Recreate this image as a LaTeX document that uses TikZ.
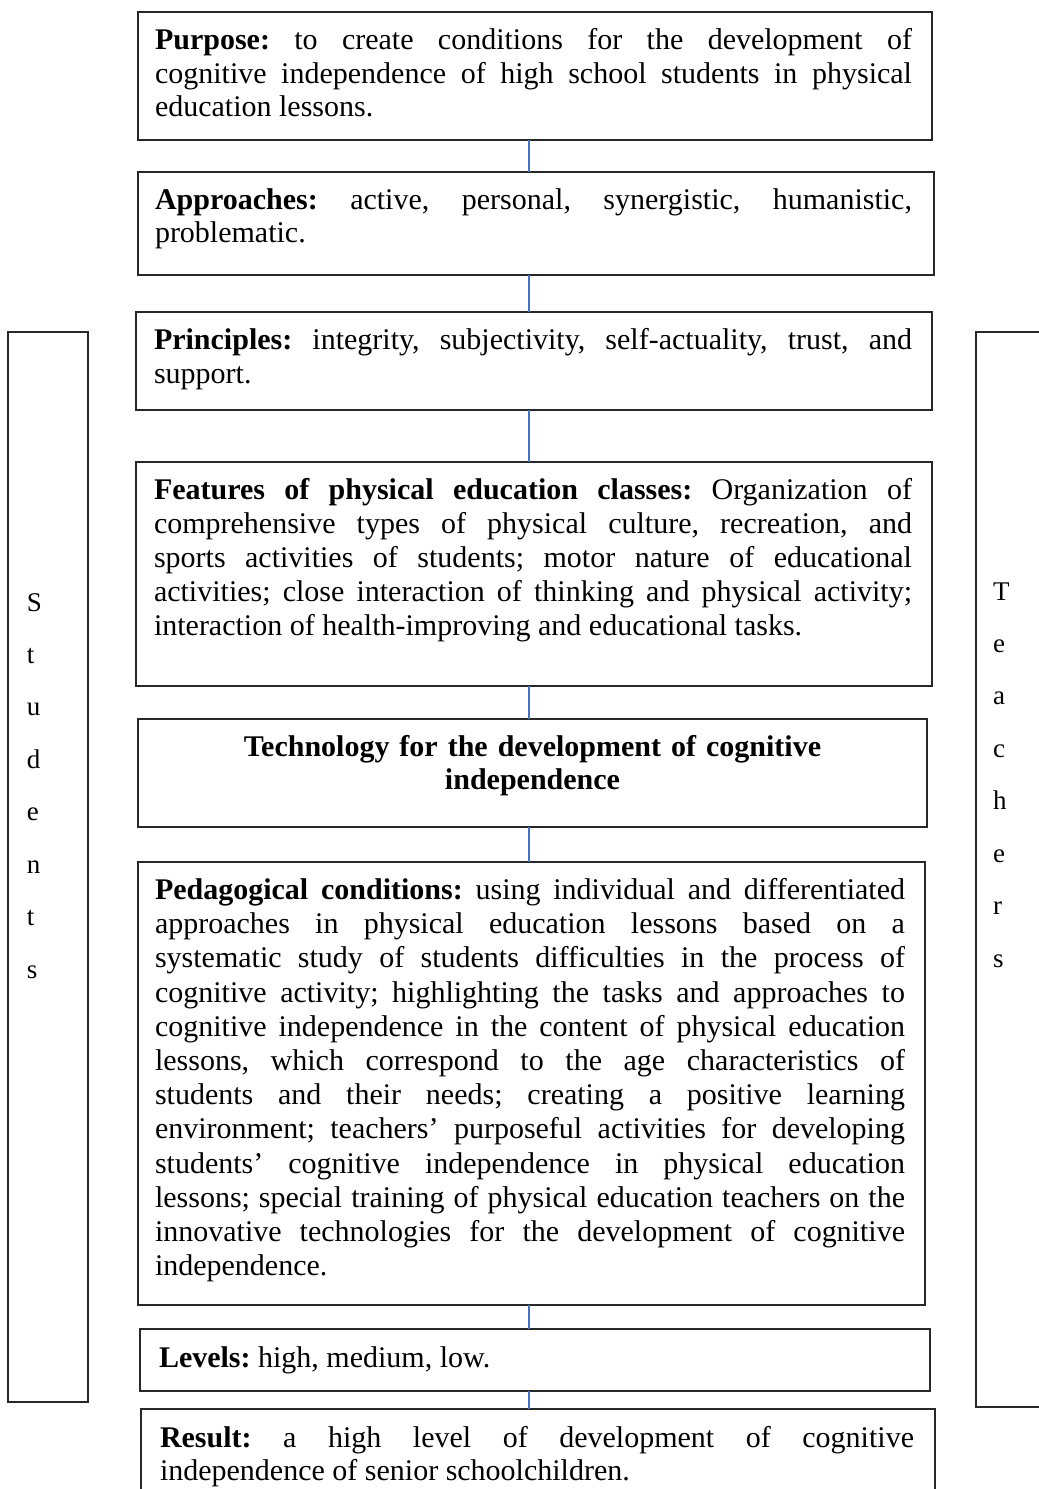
\documentclass[tikz,border=0pt]{standalone}
\usepackage{fontspec}
\setmainfont{Liberation Serif}
\definecolor{linkblue}{RGB}{68,114,196}
\definecolor{framegray}{RGB}{40,40,40}
\tikzset{
  frame/.style={draw=framegray, line width=1.6pt, rectangle, inner sep=0pt, outer sep=0pt, anchor=north west},
  body/.style={inner sep=0pt, outer sep=0pt, anchor=base west, align=justify, font=\fontsize{30}{34}\selectfont},
  sidetext/.style={inner sep=0pt, outer sep=0pt, anchor=base west, text width=30pt, align=left, font=\fontsize{27}{52.45}\selectfont},
  link/.style={draw=linkblue, line width=1.2pt},
}
\begin{document}
\frenchspacing
\hbadness=10000 \tolerance=10000 \hyphenpenalty=10000 \exhyphenpenalty=10000
\begin{tikzpicture}[x=1pt,y=-1pt]
\useasboundingbox (0,0) rectangle (1039,1489);
\clip (0,0) rectangle (1039,1489);
\fill[white] (0,0) rectangle (1039,1489);

% frames
\node[frame, minimum width=794pt, minimum height=128pt] (purp) at (138,12) {};
\node[frame, minimum width=796pt, minimum height=103pt] (appr) at (138,172) {};
\node[frame, minimum width=796pt, minimum height=98pt] (prin) at (136,312) {};
\node[frame, minimum width=796pt, minimum height=224pt] (feat) at (136,462) {};
\node[frame, minimum width=789pt, minimum height=108pt] (tech) at (138,719) {};
\node[frame, minimum width=787pt, minimum height=443pt] (peda) at (138,862) {};
\node[frame, minimum width=790pt, minimum height=62pt] (levl) at (140,1329) {};
\node[frame, minimum width=794pt, minimum height=110pt] (resl) at (141,1409) {};
\node[frame, minimum width=80pt, minimum height=1070pt] (stud) at (8,332) {};
\node[frame, minimum width=80pt, minimum height=1075pt] (teac) at (976,332) {};

% texts
\node[body, text width=757pt, font=\fontsize{30}{33.7}\selectfont] (purpT) at (155,49.5)
 {\textbf{Purpose:} to create conditions for the development of\linebreak
  cognitive independence of high school students in physical\linebreak
  education lessons.};
\node[body, text width=757pt, font=\fontsize{30}{33}\selectfont] (apprT) at (155,209.5)
 {\textbf{Approaches:} active, personal, synergistic, humanistic,\linebreak
  problematic.};
\node[body, text width=758pt] (prinT) at (154,349)
 {\textbf{Principles:} integrity, subjectivity, self-actuality, trust, and\linebreak
  support.};
\node[body, text width=758pt] (featT) at (154,499)
 {\textbf{Features of physical education classes:} Organization of\linebreak
  comprehensive types of physical culture, recreation, and\linebreak
  sports activities of students; motor nature of educational\linebreak
  activities; close interaction of thinking and physical activity;\linebreak
  interaction of health-improving and educational tasks.};
\node[inner sep=0pt, outer sep=0pt, anchor=base, text width=770pt, align=center, font=\fontsize{30}{33.5}\selectfont\bfseries] (techT) at (532.5,756)
 {Technology for the development of cognitive\\ independence};
\node[body, text width=750pt, font=\fontsize{30}{34.2}\selectfont] (pedaT) at (155,899.5)
 {\textbf{Pedagogical conditions:} using individual and differentiated\linebreak
  approaches in physical education lessons based on a\linebreak
  systematic study of students difficulties in the process of\linebreak
  cognitive activity; highlighting the tasks and approaches to\linebreak
  cognitive independence in the content of physical education\linebreak
  lessons, which correspond to the age characteristics of\linebreak
  students and their needs; creating a positive learning\linebreak
  environment; teachers’ purposeful activities for developing\linebreak
  students’ cognitive independence in physical education\linebreak
  lessons; special training of physical education teachers on the\linebreak
  innovative technologies for the development of cognitive\linebreak
  independence.};
\node[body, text width=750pt] (levlT) at (159,1367)
 {\textbf{Levels:} high, medium, low.};
\node[body, text width=754pt, font=\fontsize{30}{33}\selectfont] (reslT) at (160,1447)
 {\textbf{Result:} a high level of development of cognitive\linebreak
  independence of senior schoolchildren.};

\node[sidetext] (studT) at (27,611) {S\\t\\u\\d\\e\\n\\t\\s};
\node[sidetext] (teacT) at (993,600) {T\\e\\a\\c\\h\\e\\r\\s};

% connectors
\coordinate (cx) at (529,0);
\draw[link] (purp.south -| cx) -- (appr.north -| cx);
\draw[link] (appr.south -| cx) -- (prin.north -| cx);
\draw[link] (prin.south -| cx) -- (feat.north -| cx);
\draw[link] (feat.south -| cx) -- (tech.north -| cx);
\draw[link] (tech.south -| cx) -- (peda.north -| cx);
\draw[link] (peda.south -| cx) -- (levl.north -| cx);
\draw[link] (levl.south -| cx) -- (resl.north -| cx);
\end{tikzpicture}
\end{document}
